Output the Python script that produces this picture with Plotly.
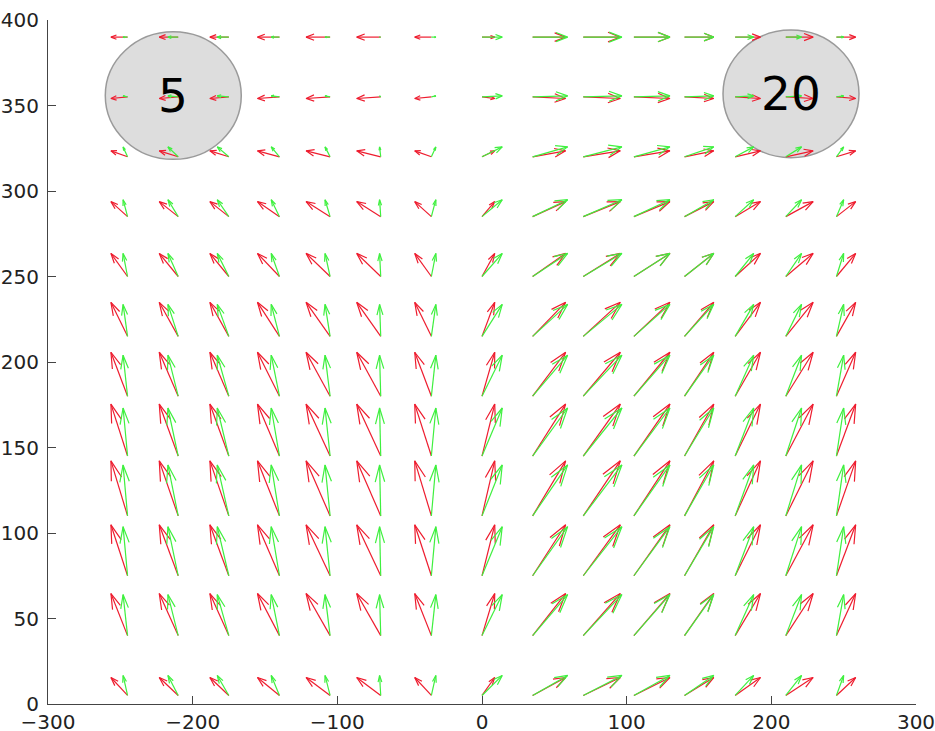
import math
import numpy as np
import plotly.graph_objects as go
import plotly.figure_factory as ff

# grid of arrow tails
x_cols = [-245, -210, -175, -140, -105, -70, -35, 0, 35, 70, 105, 140, 175, 210, 245]
y_rows = [5, 40, 75, 110, 145, 180, 215, 250, 285, 320, 355, 390]

# red field: horizontal component per column, vertical component per row (data units)
red_u = [-11.5, -13.1, -13.1, -15.2, -16.6, -16.6, -11.5, 8.8, 22.8, 25.6, 24.9, 20.2, 17.5, 18.9, 13.3]
red_v = [10.5, 24.6, 29.8, 32.2, 30.4, 25.7, 19.9, 13.5, 8.8, 3.5, -0.9, 0.0]

# green field
green_u = [-3.1, -7.1, -8.0, -5.7, -3.5, -0.8, 3.1, 14.0, 24.2, 26.7, 24.9, 20.2, 12.8, 10.9, 5.0]
green_v = [11.7, 24.0, 28.7, 29.8, 28.1, 24.0, 18.7, 13.5, 9.9, 5.8, 0.6, 0.0]

# obstacles
circle_x = [-213.4, 213.6]
circle_y = [355.8, 356.8]
circle_rx = [47.0, 47.0]
circle_ry = [37.3, 37.3]
circle_labels = ["5", "20"]

x_ticks = [-300, -200, -100, 0, 100, 200, 300]
y_ticks = [0, 50, 100, 150, 200, 250, 300, 350, 400]

X, Y = np.meshgrid(x_cols, y_rows)
RU, RV = np.meshgrid(red_u, red_v)
GU, GV = np.meshgrid(green_u, green_v)

head = 0.35
ang = math.atan(0.33)

qr = ff.create_quiver(X.ravel(), Y.ravel(), RU.ravel(), RV.ravel(), scale=1,
                      arrow_scale=head, angle=ang,
                      line=dict(color="#ee1c2e", width=1.2), name="red")
qg = ff.create_quiver(X.ravel(), Y.ravel(), GU.ravel(), GV.ravel(), scale=1,
                      arrow_scale=head, angle=ang,
                      line=dict(color="#3ff03f", width=1.2), name="green")

fig = go.Figure()
for t in qr.data:
    t.hoverinfo = "skip"
    fig.add_trace(t)
for t in qg.data:
    t.hoverinfo = "skip"
    fig.add_trace(t)

for cx, cy, rx, ry, lab in zip(circle_x, circle_y, circle_rx, circle_ry, circle_labels):
    fig.add_shape(type="circle", xref="x", yref="y", x0=cx - rx, x1=cx + rx,
                  y0=cy - ry, y1=cy + ry, layer="below",
                  fillcolor="#dddddd", line=dict(color="#9a9a9a", width=1.5))
    fig.add_annotation(x=cx, y=cy, text=lab, showarrow=False, xref="x", yref="y",
                       font=dict(family="DejaVu Sans", size=47, color="#000000"))

axis_common = dict(showgrid=False, zeroline=False, showline=True, linecolor="#444444",
                   linewidth=1, ticks="inside", ticklen=8, tickcolor="#444444",
                   automargin=False, ticklabeloverflow="allow",
                   tickfont=dict(family="DejaVu Sans", size=20, color="#222222"))

fig.update_layout(
    width=935, height=731, autosize=False,
    margin=dict(l=48, r=19, t=20, b=27),
    plot_bgcolor="white", paper_bgcolor="white",
    showlegend=False,
    xaxis=dict(range=[-300, 300], tickvals=x_ticks, **axis_common),
    yaxis=dict(range=[0, 400], tickvals=y_ticks, ticklabelstandoff=4, **axis_common),
)

fig.write_html("out.html", config={"displayModeBar": False},
               post_script="document.body.style.margin='0';document.body.style.overflow='hidden';")
